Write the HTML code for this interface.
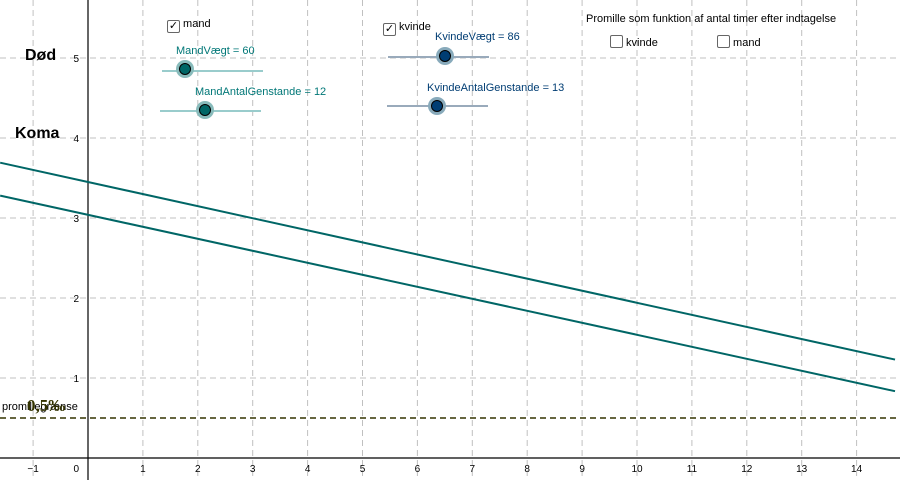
<!DOCTYPE html>
<html><head><meta charset="utf-8"><style>
body{margin:0;background:#fff}
svg{display:block;font-family:"Liberation Sans",sans-serif}
</style></head><body>
<svg id="c" width="900" height="480"></svg>
<script>
const xTicks=[-1,0,1,2,3,4,5,6,7,8,9,10,11,12,13,14];
const yTicks=[1,2,3,4,5];
const lineStartX=-1.6, lineEndX=14.7;
const manIntercept=3.45, womanIntercept=3.04;
const manSlope=-0.151, womanSlope=-0.15;
const limitValue=0.5;
const X=v=>88+v*54.9, Y=v=>458-v*80;
const svg=document.getElementById('c');
const NS='http://www.w3.org/2000/svg';
function el(t,a,txt){const e=document.createElementNS(NS,t);for(const k in a)e.setAttribute(k,a[k]);if(txt!=null)e.textContent=txt;svg.appendChild(e);return e;}
xTicks.forEach(v=>{if(v===0)return;
const g=el('line',{x1:X(v),x2:X(v),y1:0,y2:480,stroke:'#c0c0c0','stroke-dasharray':'6,4'});


const t=el('text',{x:X(v),y:472,'font-size':10,'text-anchor':'middle',fill:'#000'},v<0?'−'+(-v):v);

});
yTicks.forEach(v=>{
const g=el('line',{x1:0,x2:900,y1:Y(v),y2:Y(v),stroke:'#c0c0c0','stroke-dasharray':'6,4'});


const t=el('text',{x:79,y:Y(v)+4,'font-size':10,'text-anchor':'end',fill:'#000'},v);

});
const zl=el('text',{x:79,y:472,'font-size':10,'text-anchor':'end'},'0');


const xa=el('line',{x1:0,x2:900,y1:Y(0),y2:Y(0),stroke:'#000','stroke-width':1.2});


const ya=el('line',{x1:X(0),x2:X(0),y1:0,y2:480,stroke:'#000','stroke-width':1.2});


const lim=el('line',{x1:0,x2:900,y1:Y(limitValue),y2:Y(limitValue),stroke:'#333300','stroke-width':1.5,'stroke-dasharray':'6,4'});


[[manIntercept,manSlope,'man-line'],[womanIntercept,womanSlope,'woman-line']].forEach(([b,m,n])=>{
const l=el('line',{x1:X(lineStartX),y1:Y(b+m*lineStartX),x2:X(lineEndX),y2:Y(b+m*lineEndX),stroke:'#006666','stroke-width':2});

});
</script>
<div style="position:absolute;left:0;top:0;width:900px;height:480px;font-family:'Liberation Sans',sans-serif;pointer-events:none">
<div style="position:absolute;left:25px;top:47px;font-weight:bold;font-size:16px">Død</div>
<div style="position:absolute;left:15px;top:125px;font-weight:bold;font-size:16px">Koma</div>
<div style="position:absolute;left:2px;top:401px;font-size:11px">promillegrænse</div>
<div style="position:absolute;left:27px;top:396px;font-size:17px;font-family:'Liberation Serif',serif;font-weight:bold;color:#333300">0,5‰</div>

<div style="position:absolute;left:167px;top:18px;font-size:11px"><span style="display:inline-block;width:11px;height:11px;border:1px solid #666;border-radius:2px;vertical-align:-2px;font-size:11px;line-height:11px;text-align:center">✓</span> mand</div>
<div style="position:absolute;left:383px;top:21px;font-size:11px"><span style="display:inline-block;width:11px;height:11px;border:1px solid #666;border-radius:2px;vertical-align:-2px;font-size:11px;line-height:11px;text-align:center">✓</span> kvinde</div>
<div style="position:absolute;left:586px;top:13px;font-size:11px">Promille som funktion af antal timer efter indtagelse</div>
<div style="position:absolute;left:610px;top:35px;font-size:11px"><span style="display:inline-block;width:11px;height:11px;border:1px solid #666;border-radius:2px;vertical-align:-2px"></span> kvinde</div>
<div style="position:absolute;left:717px;top:35px;font-size:11px"><span style="display:inline-block;width:11px;height:11px;border:1px solid #666;border-radius:2px;vertical-align:-2px"></span> mand</div>

<div style="position:absolute;left:176px;top:45px;font-size:11px;color:#007777">MandVægt = 60</div>
<div style="position:absolute;left:162px;top:70px;width:101px;height:2px;background:#9cc"></div>
<div style="position:absolute;left:179px;top:63px;width:10px;height:10px;border-radius:50%;background:#006666;border:1px solid #000;box-shadow:0 0 0 3px #8bb"></div>
<div style="position:absolute;left:195px;top:86px;font-size:11px;color:#007777">MandAntalGenstande = 12</div>
<div style="position:absolute;left:160px;top:110px;width:101px;height:2px;background:#9cc"></div>
<div style="position:absolute;left:199px;top:104px;width:10px;height:10px;border-radius:50%;background:#006666;border:1px solid #000;box-shadow:0 0 0 3px #8bb"></div>

<div style="position:absolute;left:435px;top:31px;font-size:11px;color:#003d73">KvindeVægt = 86</div>
<div style="position:absolute;left:388px;top:56px;width:101px;height:2px;background:#9ab"></div>
<div style="position:absolute;left:439px;top:50px;width:10px;height:10px;border-radius:50%;background:#003d73;border:1px solid #000;box-shadow:0 0 0 3px #8ab"></div>
<div style="position:absolute;left:427px;top:82px;font-size:11px;color:#003d73">KvindeAntalGenstande = 13</div>
<div style="position:absolute;left:387px;top:105px;width:101px;height:2px;background:#9ab"></div>
<div style="position:absolute;left:431px;top:100px;width:10px;height:10px;border-radius:50%;background:#003d73;border:1px solid #000;box-shadow:0 0 0 3px #8ab"></div>
</div>
</body></html>
